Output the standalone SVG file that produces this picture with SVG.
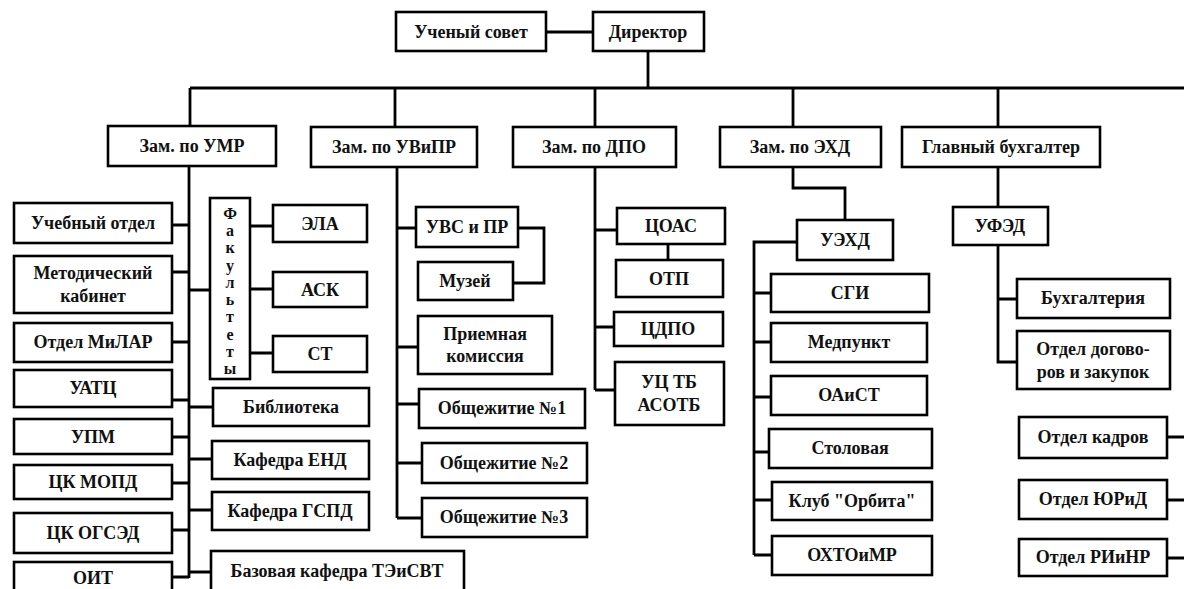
<svg xmlns="http://www.w3.org/2000/svg" width="1184" height="589" viewBox="0 0 1184 589" font-family="Liberation Serif, Times New Roman, DejaVu Serif, serif">
<style>
rect{fill:#fff;stroke:#000;stroke-width:2.6}
text{font-weight:700;font-size:18px;fill:#111;text-anchor:middle}
.c path{fill:none;stroke:#000;stroke-width:2.8}
.v{font-size:16px}
</style>
<rect x="0" y="0" width="1184" height="589" style="stroke:none"/>
<g class="c" id="connectors">
<path d="M546,32H593"/>
<path d="M648,51V88"/>
<path d="M190,88H1184"/>
<path d="M190,88V126M395,88V127M595,88V127M793,88V127M998,88V127"/>
<path d="M189,166V578"/>
<path d="M172,225H189M172,272H189M172,342H189M172,400H189M172,437H189M172,483H189M172,530H189M172,577H189"/>
<path d="M189,290H210M189,407H213M189,459H212M189,510H212M189,572H211"/>
<path d="M250,226H273M250,289H273M250,353H273"/>
<path d="M397,167V518"/>
<path d="M397,228H416M397,347H418M397,404H419M397,463H422M397,518H422"/>
<path d="M518,228H544V283H513"/>
<path d="M595,167V390"/>
<path d="M595,230H617M595,327H614M595,390H615"/>
<path d="M668,244V260"/>
<path d="M793,167V188H845V220"/>
<path d="M797,242H754V555"/>
<path d="M754,293H771M754,342H771M754,397H771M754,452H769M754,500H772M754,555H772"/>
<path d="M998,167V207"/>
<path d="M998,245V362H1017M998,299H1017"/>
<path d="M1167,437H1184M1167,500H1184M1167,558H1184"/>
</g>
<g id="n-uchsovet"><rect x="396" y="12" width="150" height="39"/><text x="471" y="38">Ученый совет</text></g>
<g id="n-director"><rect x="593" y="12" width="111" height="39"/><text x="648" y="38">Директор</text></g>
<g id="n-umr"><rect x="108" y="126" width="168" height="40"/><text x="192" y="152">Зам. по УМР</text></g>
<g id="n-uvipr"><rect x="311" y="127" width="166" height="40"/><text x="394" y="153">Зам. по УВиПР</text></g>
<g id="n-dpo"><rect x="513" y="127" width="163" height="40"/><text x="594" y="153">Зам. по ДПО</text></g>
<g id="n-ehd"><rect x="720" y="127" width="161" height="40"/><text x="800" y="153">Зам. по ЭХД</text></g>
<g id="n-glbuh"><rect x="902" y="127" width="198" height="40"/><text x="1001" y="153">Главный бухгалтер</text></g>

<g id="n-uchotdel"><rect x="14" y="203" width="158" height="40"/><text x="93" y="229">Учебный отдел</text></g>
<g id="n-metod"><rect x="14" y="256" width="158" height="57"/><text x="93" y="279">Методический</text><text x="93" y="302">кабинет</text></g>
<g id="n-milar"><rect x="14" y="323" width="158" height="39"/><text x="93" y="348">Отдел МиЛАР</text></g>
<g id="n-uatc"><rect x="14" y="370" width="158" height="37"/><text x="93" y="394">УАТЦ</text></g>
<g id="n-upm"><rect x="14" y="419" width="158" height="35"/><text x="93" y="443">УПМ</text></g>
<g id="n-mopd"><rect x="14" y="465" width="158" height="34"/><text x="93" y="488">ЦК МОПД</text></g>
<g id="n-ogsed"><rect x="14" y="513" width="158" height="40"/><text x="93" y="539">ЦК ОГСЭД</text></g>
<g id="n-oit"><rect x="14" y="562" width="158" height="40"/><text x="93" y="584">ОИТ</text></g>

<g id="n-fak"><rect x="210" y="198" width="40" height="181"/>
<text class="v" x="230" y="219">Ф</text><text class="v" x="230" y="236">а</text><text class="v" x="230" y="253">к</text><text class="v" x="230" y="271">у</text><text class="v" x="230" y="288">л</text><text class="v" x="230" y="305">ь</text><text class="v" x="230" y="322">т</text><text class="v" x="230" y="340">е</text><text class="v" x="230" y="357">т</text><text class="v" x="230" y="374">ы</text></g>
<g id="n-ela"><rect x="273" y="205" width="94" height="37"/><text x="320" y="230">ЭЛА</text></g>
<g id="n-ask"><rect x="273" y="272" width="94" height="35"/><text x="320" y="296">АСК</text></g>
<g id="n-st"><rect x="273" y="336" width="94" height="36"/><text x="320" y="360">СТ</text></g>
<g id="n-bibl"><rect x="213" y="388" width="156" height="38"/><text x="291" y="413">Библиотека</text></g>
<g id="n-end"><rect x="212" y="441" width="157" height="38"/><text x="290" y="466">Кафедра ЕНД</text></g>
<g id="n-gspd"><rect x="212" y="492" width="157" height="38"/><text x="290" y="517">Кафедра ГСПД</text></g>
<g id="n-baz"><rect x="211" y="551" width="253" height="42"/><text x="337" y="577">Базовая кафедра ТЭиСВТ</text></g>

<g id="n-uvs"><rect x="416" y="207" width="102" height="40"/><text x="467" y="233">УВС и ПР</text></g>
<g id="n-muzey"><rect x="418" y="262" width="95" height="38"/><text x="465" y="287">Музей</text></g>
<g id="n-priem"><rect x="418" y="316" width="134" height="58"/><text x="485" y="340">Приемная</text><text x="485" y="362">комиссия</text></g>
<g id="n-ob1"><rect x="419" y="389" width="166" height="39"/><text x="502" y="414">Общежитие №1</text></g>
<g id="n-ob2"><rect x="422" y="443" width="165" height="40"/><text x="504" y="469">Общежитие №2</text></g>
<g id="n-ob3"><rect x="422" y="498" width="165" height="39"/><text x="504" y="523">Общежитие №3</text></g>

<g id="n-coas"><rect x="617" y="208" width="108" height="36"/><text x="671" y="232">ЦОАС</text></g>
<g id="n-otp"><rect x="616" y="260" width="107" height="37"/><text x="669" y="285">ОТП</text></g>
<g id="n-cdpo"><rect x="614" y="312" width="109" height="34"/><text x="668" y="335">ЦДПО</text></g>
<g id="n-uctb"><rect x="615" y="362" width="109" height="63"/><text x="669" y="388">УЦ ТБ</text><text x="669" y="411">АСОТБ</text></g>

<g id="n-uehd"><rect x="797" y="220" width="96" height="40"/><text x="845" y="246">УЭХД</text></g>
<g id="n-sgi"><rect x="771" y="274" width="158" height="38"/><text x="850" y="299">СГИ</text></g>
<g id="n-med"><rect x="771" y="323" width="156" height="39"/><text x="849" y="348">Медпункт</text></g>
<g id="n-oaist"><rect x="771" y="376" width="156" height="39"/><text x="849" y="401">ОАиСТ</text></g>
<g id="n-stol"><rect x="769" y="429" width="163" height="39"/><text x="850" y="454">Столовая</text></g>
<g id="n-klub"><rect x="772" y="482" width="160" height="38"/><text x="852" y="507">Клуб "Орбита"</text></g>
<g id="n-ohto"><rect x="772" y="536" width="160" height="39"/><text x="852" y="561">ОХТОиМР</text></g>

<g id="n-ufed"><rect x="953" y="207" width="95" height="38"/><text x="1000" y="232">УФЭД</text></g>
<g id="n-buh"><rect x="1017" y="279" width="153" height="39"/><text x="1093" y="304">Бухгалтерия</text></g>
<g id="n-dogov"><rect x="1017" y="331" width="153" height="58"/><text x="1093" y="355">Отдел догово-</text><text x="1093" y="378">ров и закупок</text></g>
<g id="n-kadr"><rect x="1019" y="417" width="148" height="41"/><text x="1093" y="443">Отдел кадров</text></g>
<g id="n-yurid"><rect x="1019" y="480" width="148" height="39"/><text x="1093" y="505">Отдел ЮРиД</text></g>
<g id="n-riinr"><rect x="1019" y="539" width="148" height="37"/><text x="1093" y="563">Отдел РИиНР</text></g>
</svg>
